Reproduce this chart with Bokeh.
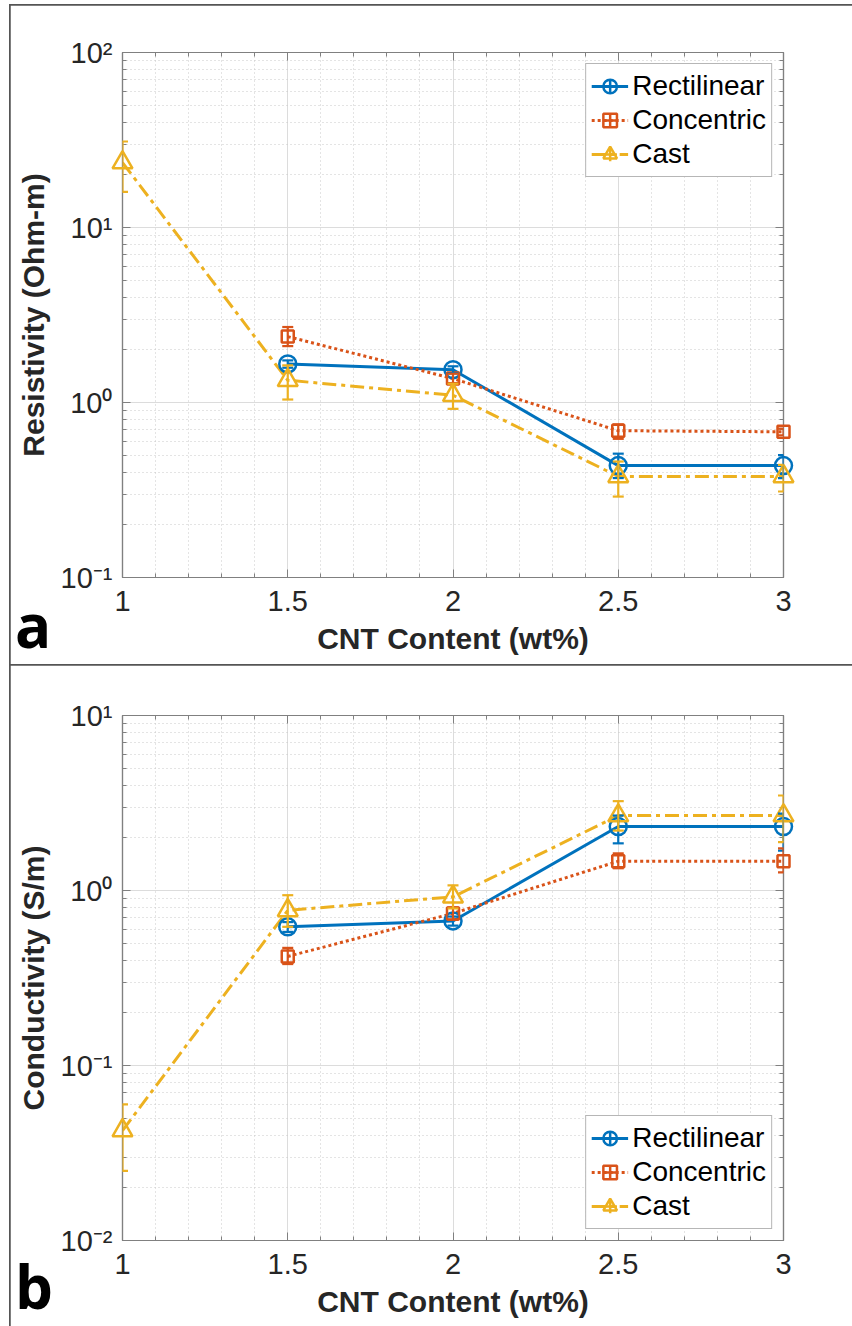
import numpy as np
from bokeh.plotting import figure
from bokeh.models import (ColumnDataSource, Whisker, TeeHead, FixedTicker,
                          CustomJSTickFormatter, Legend, LegendItem, Div,
                          LinearAxis, LogAxis, Range1d)
from bokeh.layouts import column
from bokeh.embed import file_html
from bokeh.resources import INLINE

# ---- data -------------------------------------------------------------
wt_printed = [1.5, 2.0, 2.5, 3.0]          # CNT wt% for the printed samples
wt_cast = [1.0, 1.5, 2.0, 2.5, 3.0]        # CNT wt% for the cast samples

# resistivity (Ohm-m): mean, lower and upper error-bar ends
res_rect = [1.66, 1.54, 0.436, 0.436]
res_rect_lo = [1.58, 1.47, 0.37, 0.37]
res_rect_hi = [1.74, 1.61, 0.51, 0.50]

res_conc = [2.38, 1.37, 0.69, 0.68]
res_conc_lo = [2.10, 1.29, 0.62, 0.65]
res_conc_hi = [2.70, 1.46, 0.75, 0.71]

res_cast = [23.5, 1.34, 1.10, 0.378, 0.378]
res_cast_lo = [16.0, 1.04, 0.92, 0.29, 0.31]
res_cast_hi = [31.0, 1.63, 1.28, 0.46, 0.44]

# conductivity (S/m): mean, lower and upper error-bar ends
con_rect = [0.62, 0.67, 2.32, 2.32]
con_rect_lo = [0.58, 0.63, 1.86, 1.69]
con_rect_hi = [0.66, 0.71, 2.68, 2.75]

con_conc = [0.42, 0.74, 1.47, 1.47]
con_conc_lo = [0.38, 0.68, 1.34, 1.27]
con_conc_hi = [0.47, 0.80, 1.63, 1.74]

con_cast = [0.0425, 0.77, 0.92, 2.68, 2.68]
con_cast_lo = [0.025, 0.62, 0.79, 2.20, 1.89]
con_cast_hi = [0.060, 0.94, 1.07, 3.24, 3.49]

x_ticks = [1, 1.5, 2, 2.5, 3]
x_minor = [round(1 + 0.1 * i, 1) for i in range(21)]

# ---- styling ------------------------------------------------------------
BLUE, ORANGE, YELLOW = "#0072BD", "#D95319", "#EDB120"
AX_COL = "#808080"
TXT_COL = "#262626"
TICK_FONT = "Liberation Sans"
TITLE_FONT = "Liberation Sans"

EXP_FMT = CustomJSTickFormatter(code="""
const sup = {"-": "\u207b", "0": "\u2070", "1": "\u00b9", "2": "\u00b2", "3": "\u00b3"};
const e = Math.round(Math.log10(tick));
return "10" + String(e).split("").map(c => sup[c]).join("");
""")
BLANK_FMT = CustomJSTickFormatter(code="return '';")


def log_ticker(lo_exp, hi_exp):
    majors = [10.0 ** e for e in range(lo_exp, hi_exp + 1)]
    minors = [k * 10.0 ** e for e in range(lo_exp, hi_exp) for k in range(2, 10)]
    return FixedTicker(ticks=majors, minor_ticks=minors)


def style_axis(ax):
    ax.axis_line_color = AX_COL
    ax.axis_line_width = 1.2
    ax.major_tick_line_color = AX_COL
    ax.minor_tick_line_color = AX_COL
    ax.major_tick_in = 8
    ax.major_tick_out = 0
    ax.minor_tick_in = 4
    ax.minor_tick_out = 0
    ax.major_label_text_font = TICK_FONT
    ax.major_label_text_font_size = "29px"
    ax.major_label_text_color = TXT_COL
    ax.axis_label_text_font = TITLE_FONT
    ax.axis_label_text_font_size = "30px"
    ax.axis_label_text_font_style = "bold"
    ax.axis_label_text_color = TXT_COL


def panel(ylabel, exps, series, legend_loc, height, top, bottom, first):
    p = figure(width=842, height=height,
               x_range=Range1d(1, 3),
               y_range=Range1d(10.0 ** exps[0], 10.0 ** exps[1]),
               y_axis_type="log", output_backend="svg", toolbar_location=None,
               min_border_left=112, min_border_right=69,
               min_border_top=top, min_border_bottom=bottom,
               background_fill_color="white", border_fill_color="white")
    p.outline_line_color = AX_COL
    p.outline_line_width = 1.2

    xt = FixedTicker(ticks=x_ticks, minor_ticks=x_minor)
    yt = log_ticker(exps[0], exps[1])

    p.xaxis.ticker = xt
    p.yaxis.ticker = yt
    p.yaxis.formatter = EXP_FMT
    p.xaxis.axis_label = "CNT Content (wt%)"
    p.yaxis.axis_label = ylabel
    for ax in p.xaxis + p.yaxis:
        style_axis(ax)
    p.xaxis.major_label_standoff = 13
    p.xaxis.axis_label_standoff = 8
    p.yaxis.major_label_standoff = 10
    p.yaxis.axis_label_standoff = 8

    top_ax = LinearAxis(ticker=xt, formatter=BLANK_FMT)
    right_ax = LogAxis(ticker=yt, formatter=BLANK_FMT)
    for ax in (top_ax, right_ax):
        style_axis(ax)
        ax.major_label_standoff = 0
    p.add_layout(top_ax, "above")
    p.add_layout(right_ax, "right")

    for g in (p.xgrid[0], p.ygrid[0]):
        g.grid_line_color = "#dcdcdc"
        g.grid_line_width = 1
        g.minor_grid_line_color = "#c8c8c8"
        g.minor_grid_line_dash = "1 3"
        g.minor_grid_line_width = 1

    items = []
    for name, xs, ys, lo, hi, color, dash, marker, msize in series:
        src = ColumnDataSource(dict(x=xs, y=ys, lo=lo, hi=hi))
        p.add_layout(Whisker(source=src, base="x", lower="lo", upper="hi",
                             line_color=color, line_width=2.2, level="overlay",
                             upper_head=TeeHead(size=11, line_color=color, line_width=2.2),
                             lower_head=TeeHead(size=11, line_color=color, line_width=2.2)))
        line_r = p.line("x", "y", source=src, line_color=color, line_width=3,
                        line_dash=dash)
        # zero-size cross: invisible on the axes, gives the error-bar cross in the legend
        bar_r = p.scatter("x", "y", source=src, marker="cross", size=0,
                          line_color=color, line_width=2.5)
        mark_r = p.scatter("x", "y", source=src, marker=marker, size=msize,
                           line_color=color, line_width=2.5, fill_color=None,
                           level="overlay")
        items.append(LegendItem(label=name, renderers=[line_r, bar_r, mark_r]))

    legend = Legend(items=items, location=legend_loc, margin=11, padding=5,
                    spacing=0, glyph_width=37, glyph_height=34, label_standoff=4,
                    label_text_font=TICK_FONT, label_text_font_size="28px",
                    label_text_color="black", border_line_color="#6e6e6e",
                    border_line_width=1, background_fill_color="white",
                    background_fill_alpha=1)
    p.add_layout(legend)

    p.margin = (5, 0, 0, 10) if first else (0, 0, 0, 10)
    p.styles = {"outline": "2px solid #555555", "outline-offset": "-1px"}
    return p


def panel_letter(letter):
    # letter sits in the lower-left corner of the panel above it
    html = ("<div style=\"font: bold 60px 'Open Sans'; line-height: 60px; "
            "color: black; padding-left: 3px;\">%s</div>" % letter)
    return Div(text=html, width=70, height=70, margin=(-70, 0, 0, 12))


series_a = [
    ("Rectilinear", wt_printed, res_rect, res_rect_lo, res_rect_hi, BLUE, "solid", "circle", 17),
    ("Concentric", wt_printed, res_conc, res_conc_lo, res_conc_hi, ORANGE, "3 3", "square", 12),
    ("Cast", wt_cast, res_cast, res_cast_lo, res_cast_hi, YELLOW, "14 5 4 5", "triangle", 20),
]
series_b = [
    ("Rectilinear", wt_printed, con_rect, con_rect_lo, con_rect_hi, BLUE, "solid", "circle", 17),
    ("Concentric", wt_printed, con_conc, con_conc_lo, con_conc_hi, ORANGE, "3 3", "square", 12),
    ("Cast", wt_cast, con_cast, con_cast_lo, con_cast_hi, YELLOW, "14 5 4 5", "triangle", 20),
]

pa = panel("Resistivity (Ohm-m)", (-1, 2), series_a, "top_right", 660, 47, 88, True)
pb = panel("Conductivity (S/m)", (-2, 1), series_b, "bottom_right", 661, 50, 86, False)

layout = column(pa, panel_letter("a"), pb, panel_letter("b"), spacing=0)
open("out.html", "w").write(file_html(layout, INLINE))
